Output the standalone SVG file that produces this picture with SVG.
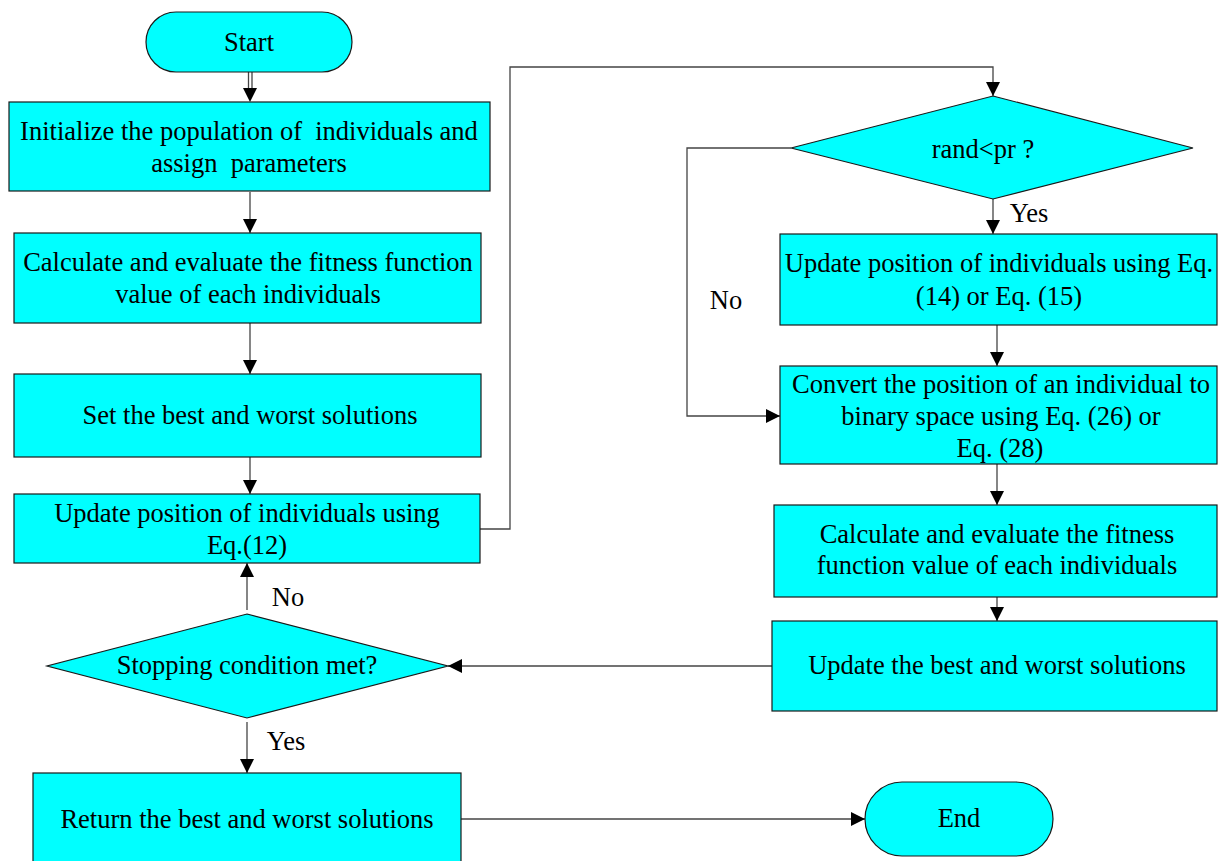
<svg xmlns="http://www.w3.org/2000/svg" width="1218" height="861" viewBox="0 0 1218 861">
<style>
.n{fill:#00FFFF;stroke:#1a1a1a;stroke-width:1.2}
.t{font-family:"Liberation Serif","Times New Roman",serif;font-size:26.5px;fill:#000;text-anchor:middle;dominant-baseline:central}
.c{fill:none;stroke:#444;stroke-width:1.3}
</style>
<defs>
<marker id="ah" viewBox="0 0 14 14" refX="14" refY="7" markerWidth="14" markerHeight="14" markerUnits="userSpaceOnUse" orient="auto">
<path d="M0,0 L14,7 L0,14 Z" fill="#000"/>
</marker>
</defs>
<rect width="1218" height="861" fill="#fff"/>
<g id="connectors">
<line class="c" x1="248.5" y1="72" x2="248.5" y2="90"/>
<line class="c" x1="252" y1="72" x2="252" y2="90"/>
<path d="M243,88 L257,88 L250,102 Z" fill="#000"/>
<line class="c" x1="250" y1="192" x2="250" y2="233" marker-end="url(#ah)"/>
<line class="c" x1="250" y1="323" x2="250" y2="374" marker-end="url(#ah)"/>
<line class="c" x1="250" y1="457" x2="250" y2="494" marker-end="url(#ah)"/>
<polyline class="c" points="480,529 510,529 510,67 993,67 993,96" marker-end="url(#ah)"/>
<line class="c" x1="993" y1="199" x2="993" y2="234" marker-end="url(#ah)"/>
<polyline class="c" points="791,148 687,148 687,416 780,416" marker-end="url(#ah)"/>
<line class="c" x1="997" y1="325" x2="997" y2="366" marker-end="url(#ah)"/>
<line class="c" x1="997" y1="464" x2="997" y2="505" marker-end="url(#ah)"/>
<line class="c" x1="997" y1="597" x2="997" y2="621" marker-end="url(#ah)"/>
<line class="c" x1="772" y1="666" x2="448" y2="666" marker-end="url(#ah)"/>
<line class="c" x1="247" y1="610" x2="247" y2="563" marker-end="url(#ah)"/>
<line class="c" x1="247" y1="722" x2="247" y2="773" marker-end="url(#ah)"/>
<line class="c" x1="461" y1="819" x2="865" y2="819" marker-end="url(#ah)"/>
<text class="t" x="1029" y="213">Yes</text>
<text class="t" x="726" y="300">No</text>
<text class="t" x="288" y="597">No</text>
<text class="t" x="286" y="741">Yes</text>
</g>
<g id="start">
<rect class="n" x="146" y="12" width="206" height="60" rx="30" ry="30"/>
<text class="t" x="249" y="42">Start</text>
</g>
<g id="init">
<rect class="n" x="9" y="102" width="481" height="89"/>
<text class="t" x="249" y="131" xml:space="preserve">Initialize the population of  individuals and</text>
<text class="t" x="249" y="163" xml:space="preserve">assign  parameters</text>
</g>
<g id="calc1">
<rect class="n" x="14" y="233" width="467" height="90"/>
<text class="t" x="248" y="262">Calculate and evaluate the fitness function</text>
<text class="t" x="248" y="294">value of each individuals</text>
</g>
<g id="setbest">
<rect class="n" x="14" y="374" width="467" height="83"/>
<text class="t" x="250" y="415">Set the best and worst solutions</text>
</g>
<g id="update12">
<rect class="n" x="14" y="494" width="466" height="69"/>
<text class="t" x="247" y="513">Update position of individuals using</text>
<text class="t" x="247" y="545">Eq.(12)</text>
</g>
<g id="randpr">
<polygon class="n" points="993,96 1193,148 993,199 791,148"/>
<text class="t" x="983" y="149">rand&lt;pr ?</text>
</g>
<g id="update1415">
<rect class="n" x="780" y="234" width="437" height="91"/>
<text class="t" x="999" y="263">Update position of individuals using Eq.</text>
<text class="t" x="999" y="296">(14) or Eq. (15)</text>
</g>
<g id="convert">
<rect class="n" x="780" y="366" width="437" height="98"/>
<text class="t" x="1001" y="384">Convert the position of an individual to</text>
<text class="t" x="1001" y="416">binary space using Eq. (26) or</text>
<text class="t" x="1000" y="448">Eq. (28)</text>
</g>
<g id="calc2">
<rect class="n" x="774" y="505" width="443" height="92"/>
<text class="t" x="997" y="534">Calculate and evaluate the fitness</text>
<text class="t" x="997" y="565">function value of each individuals</text>
</g>
<g id="updatebest">
<rect class="n" x="772" y="621" width="445" height="90"/>
<text class="t" x="997" y="665">Update the best and worst solutions</text>
</g>
<g id="stopping">
<polygon class="n" points="247,614 448,666 247,718 47,666"/>
<text class="t" x="247" y="665">Stopping condition met?</text>
</g>
<g id="return">
<rect class="n" x="33" y="773" width="428" height="100"/>
<text class="t" x="247" y="819">Return the best and worst solutions</text>
</g>
<g id="end">
<rect class="n" x="865" y="782" width="188" height="74" rx="37" ry="37"/>
<text class="t" x="959" y="818">End</text>
</g>
</svg>
